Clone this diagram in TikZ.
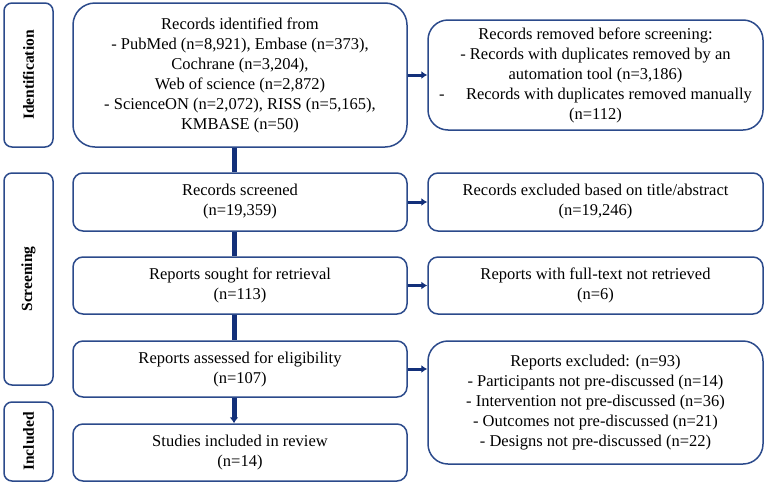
\documentclass[tikz,border=0pt]{standalone}
\usepackage{fontspec}
\setmainfont{Liberation Serif}
\usetikzlibrary{arrows.meta, positioning}
\definecolor{cnavy}{HTML}{2B4A8B}
\definecolor{cdark}{HTML}{13307A}
\tikzset{
  every picture/.style={x=1pt, y=-1pt, line width=1.5pt},
  box/.style={draw=cnavy, rounded corners=#1, align=center, inner sep=2pt, minimum width=334pt,
    font=\fontsize{16.5}{20}\selectfont},
  box/.default=10pt,
  phase/.style={draw=cnavy, rounded corners=8pt, minimum width=49pt, rotate=90,
    font=\fontsize{15.5}{18}\selectfont\bfseries},
  link/.style={draw=cdark, line width=5pt},
  arrow/.style={-{Latex[length=6pt, width=8pt]}, draw=cdark, line width=3pt},
}
\begin{document}
\begin{tikzpicture}
  \useasboundingbox (0,0) rectangle (767,485);
  % phases
  \node[phase, minimum width=144pt, minimum height=49pt] (pid) at (28.5,75) {Identification};
  \node[phase, minimum width=212pt, minimum height=49pt] (pscr) at (28.5,279) {Screening};
  \node[phase, minimum width=79pt, minimum height=49pt] (pinc) at (28.5,441.5) {Included};
  % main column
  \node[box=22pt, minimum height=144pt] (ident) at (240,75) {Records identified from\\- PubMed (n=8,921), Embase (n=373),\\Cochrane (n=3,204),\\Web of science (n=2,872)\\- ScienceON (n=2,072), RISS (n=5,165),\\KMBASE (n=50)};
  \node[box, minimum height=58pt] (screened) at (240,202) {Records screened\\(n=19,359)};
  \node[box, minimum height=57pt] (sought) at (240,285.5) {Reports sought for retrieval\\(n=113)};
  \node[box, minimum height=56pt] (assessed) at (240,369) {Reports assessed for eligibility\\(n=107)};
  \node[box, minimum height=57pt] (studies) at (240,452.5) {Studies included in review\\(n=14)};
  % right column
  \node[box=20pt, minimum width=335pt, minimum height=110pt] (removed) at (595.5,75) {Records removed before screening:\\- Records with duplicates removed by an\\automation tool (n=3,186)\\-\hspace{1.3em}Records with duplicates removed manually\\(n=112)};
  \node[box, minimum width=335pt, minimum height=58pt] (excluded) at (595.5,202) {Records excluded based on title/abstract\\(n=19,246)};
  \node[box, minimum width=335pt, minimum height=57pt] (notret) at (595.5,285.5) {Reports with full-text not retrieved\\(n=6)};
  \node[box=20pt, minimum width=335pt, minimum height=123pt] (repexcl) at (595.5,402.5) {Reports excluded: (n=93)\\- Participants not pre-discussed (n=14)\\- Intervention not pre-discussed (n=36)\\- Outcomes not pre-discussed (n=21)\\- Designs not pre-discussed (n=22)};
  % connectors
  \draw[link] ([xshift=-6pt]ident.south) -- ([xshift=-6pt]screened.north);
  \draw[link] ([xshift=-6pt]screened.south) -- ([xshift=-6pt]sought.north);
  \draw[link] ([xshift=-6pt]sought.south) -- ([xshift=-6pt]assessed.north);
  \draw[link, -{Latex[length=6pt, width=9pt]}] ([xshift=-6pt]assessed.south) -- ([xshift=-6pt]studies.north);
  \draw[arrow] (ident.east) -- (ident.east -| removed.west);
  \draw[arrow] (screened) -- (excluded);
  \draw[arrow] (sought) -- (notret);
  \draw[arrow] (assessed) -- (assessed -| repexcl.west);
\end{tikzpicture}
\end{document}
